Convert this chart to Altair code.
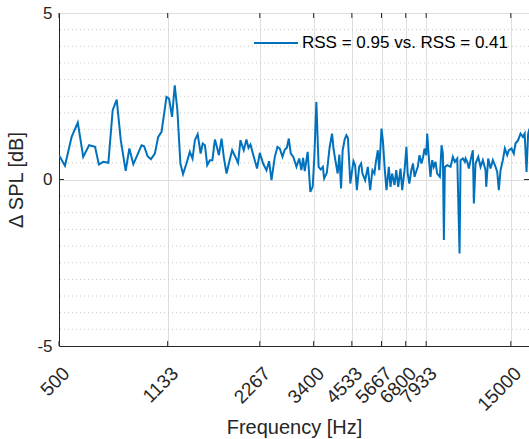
import altair as alt
import pandas as pd

series_name = "RSS = 0.95 vs. RSS = 0.41"

freq = [500, 523, 550, 576, 600, 627, 656, 675, 698, 725, 749, 772, 796, 826, 849, 875, 903, 931, 949, 974,
        999, 1029, 1055, 1082, 1123, 1145, 1171, 1195, 1219, 1247, 1272, 1305, 1339, 1366, 1391, 1420, 1452, 1475, 1500, 1526,
        1557, 1586, 1617, 1641, 1666, 1700, 1730, 1765, 1803, 1841, 1882, 1925, 1960, 2009, 2050, 2082, 2113, 2166, 2221, 2267,
        2324, 2384, 2431, 2476, 2538, 2590, 2635, 2689, 2737, 2778, 2820, 2863, 2918, 2988, 3050, 3100, 3140, 3180, 3250, 3316,
        3375, 3418, 3470, 3530, 3586, 3644, 3680, 3755, 3830, 3904, 3952, 4003, 4073, 4126, 4179, 4230, 4294, 4349, 4400, 4481,
        4530, 4588, 4647, 4707, 4789, 4862, 4910, 5010, 5113, 5202, 5293, 5373, 5431, 5513, 5570, 5667, 5723, 5810, 5884, 5987,
        6064, 6136, 6249, 6331, 6427, 6538, 6622, 6740, 6836, 6900, 6989, 7093, 7182, 7268, 7320, 7447, 7543, 7657, 7755, 7832,
        7933, 7993, 8089, 8192, 8300, 8400, 8508, 8617, 8793, 8907, 8993, 9063, 9130, 9297, 9530, 9696, 9844, 10023, 10197, 10274,
        10453, 10613, 10670, 10807, 10937, 11077, 11271, 11356, 11502, 11738, 11943, 12152, 12400, 12467, 12650, 12876, 13100, 13375, 13542, 13705,
        13881, 14124, 14339, 14599, 14777, 15080, 15340, 15536, 15850, 16135, 16419, 16650, 16882, 17090, 17270]

dspl = [0.73, 0.41, 1.28, 1.71, 0.68, 1.03, 0.98, 0.45, 0.53, 0.50, 2.08, 2.40, 1.18, 0.26, 0.93, 0.46, 0.75, 1.03, 1.00, 0.70,
        0.61, 0.78, 1.28, 1.43, 2.48, 2.43, 1.88, 2.83, 2.08, 0.48, 0.16, 0.48, 0.83, 0.63, 1.18, 1.36, 0.78, 1.08, 1.03, 0.43,
        0.58, 0.58, 1.20, 0.98, 0.73, 1.23, 0.65, 0.18, 0.55, 0.88, 0.70, 0.50, 1.18, 0.88, 1.20, 0.95, 1.05, 0.68, 0.33, 0.80,
        0.48, 0.28, 0.55, -0.02, 0.68, 0.98, 0.93, 0.68, 0.90, 0.95, 1.23, 0.78, 0.68, 0.38, 0.63, 0.28, 0.65, 0.25, 0.83, -0.37,
        -0.22, 0.68, 2.33, 0.38, 0.30, 0.38, 0.03, 0.20, 0.93, 1.38, 0.90, 0.58, 0.18, 0.75, -0.27, 0.88, 1.20, 1.33, 1.25, -0.12,
        0.20, 0.55, 0.43, -0.32, 0.38, 0.48, 0.18, -0.02, 0.38, -0.32, 0.28, 0.18, 0.53, 0.88, 0.28, 1.53, 1.18, 0.28, -0.32, 0.38,
        -0.22, 0.18, -0.17, 0.28, -0.22, 0.33, -0.32, 0.28, 0.98, 0.18, -0.12, 0.28, 0.48, 0.08, 0.18, 0.38, 0.73, 0.48, 0.68, 0.93,
        0.73, 1.38, 0.68, 0.08, 0.58, 0.38, 0.53, 0.18, 0.08, 1.03, 0.78, -1.82, 0.38, 0.43, 0.38, 0.68, 0.53, 0.63, -2.22, 0.58,
        0.63, 0.53, 0.63, 0.53, 0.33, 0.58, 0.88, -0.72, 0.48, 0.68, 0.38, 0.58, 0.28, -0.22, 0.63, 0.33, 0.58, 0.38, 0.23, -0.32,
        0.28, 0.58, 0.93, 0.73, 0.88, 0.93, 0.78, 1.08, 1.18, 1.38, 1.28, 1.38, 0.23, 1.38, 1.53]

x_ticks = [500, 1133, 2267, 3400, 4533, 5667, 6800, 7933, 15000]
y_ticks = [-5, 0, 5]
y_minor = [-4.5, -4, -3.5, -3, -2.5, -2, -1.5, -1, -0.5, 0.5, 1, 1.5, 2, 2.5, 3, 3.5, 4, 4.5]

x_domain = [500, 17200]
y_domain = [-5, 5]

FONT = "Liberation Sans"
INK = "#262626"
BLUE = "#0072BD"

df = pd.DataFrame({"f": freq, "v": dspl, "s": [series_name] * len(freq)})

xscale = alt.Scale(type="log", domain=x_domain, nice=False)
yscale = alt.Scale(domain=y_domain, nice=False)

minor = alt.Chart(pd.DataFrame({"y": y_minor})).mark_rule(
    color="#c8c8c8", strokeDash=[1, 3], strokeWidth=1
).encode(y=alt.Y("y:Q", scale=yscale))

# inward tick marks (MATLAB style)
tick_bottom = pd.DataFrame({"f": x_ticks, "y0": [-5] * len(x_ticks), "y1": [-4.85] * len(x_ticks)})
tick_top = pd.DataFrame({"f": x_ticks, "y0": [5] * len(x_ticks), "y1": [4.85] * len(x_ticks)})
ticks_x = alt.Chart(pd.concat([tick_bottom, tick_top])).mark_rule(color=INK, strokeWidth=1).encode(
    x=alt.X("f:Q", scale=xscale), y=alt.Y("y0:Q", scale=yscale), y2="y1:Q"
)
ticks_y = alt.Chart(pd.DataFrame({"x0": [500, 16570], "x1": [519, 17200], "y": [0, 0]})).mark_rule(
    color=INK, strokeWidth=1
).encode(x=alt.X("x0:Q", scale=xscale), x2="x1:Q", y=alt.Y("y:Q", scale=yscale))

line = alt.Chart(df).mark_line(strokeWidth=2, clip=True).encode(
    x=alt.X("f:Q", scale=xscale, axis=alt.Axis(
        values=x_ticks, title="Frequency [Hz]", format="d", labelAngle=315,
        labelAlign="right", labelBaseline="middle", labelOffset=7, labelPadding=24,
        labelFontSize=19, labelOverlap=False, labelBound=False, labelFlush=False,
        grid=True, gridColor="#dedede", ticks=False, titlePadding=3)),
    y=alt.Y("v:Q", scale=yscale, axis=alt.Axis(
        values=y_ticks, title="Δ SPL [dB]", labelExpr="'' + datum.value",
        labelFontSize=17, labelOverlap=False,
        grid=True, gridColor="#dedede", ticks=False, labelPadding=7, titlePadding=10)),
    color=alt.Color("s:N", scale=alt.Scale(range=[BLUE]), legend=alt.Legend(
        title=None, orient="none", legendX=194, legendY=7, symbolType="stroke",
        symbolSize=1936, symbolStrokeWidth=2, labelFontSize=17, labelFont=FONT,
        labelColor="#000000", labelOffset=3, labelLimit=0, padding=0))
)

chart = alt.layer(minor, ticks_x, ticks_y, line).properties(
    width=470, height=333,
    autosize=alt.AutoSizeParams(type="none"),
    padding={"left": 59, "top": 13, "right": 0, "bottom": 93},
).configure_view(stroke=INK, strokeWidth=1).configure_axis(
    labelFont=FONT, titleFont=FONT, titleFontSize=20,
    labelColor=INK, titleColor=INK, titleFontWeight="normal",
    domainColor=INK, domainWidth=1
)

chart.save("out.html", embed_options={"renderer": "svg", "actions": False})
